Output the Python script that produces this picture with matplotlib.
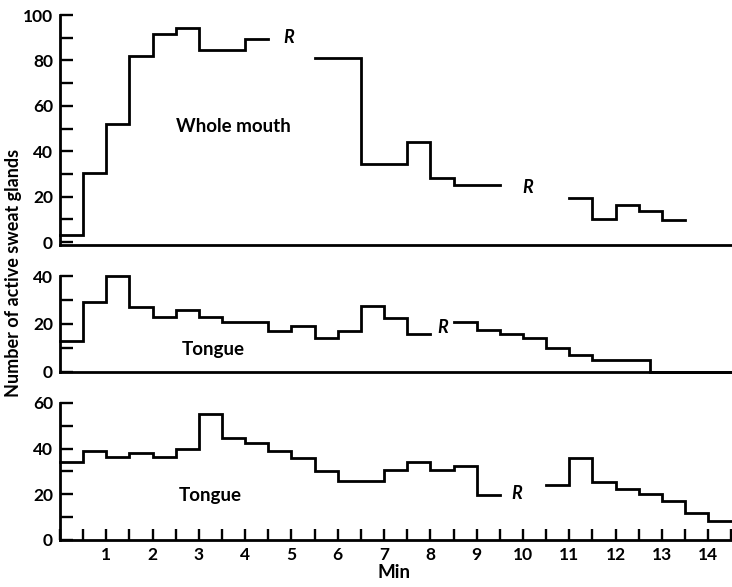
import numpy as np
import matplotlib
matplotlib.use('Agg')
import matplotlib.pyplot as plt
from matplotlib.ticker import MultipleLocator

# half-minute counting periods (start of each period, min)
top_start = np.arange(0, 13.5, 0.5)
top_counts = [3, 30.5, 52, 82, 91.5, 94.5, 84.5, 84.5, 89.5, np.nan, np.nan,
              81, 81, 34.5, 34.5, 44, 28, 25, 25, np.nan, np.nan, np.nan,
              19.5, 10, 16.5, 13.5, 9.5]
top_end = 13.5

mid_start = list(np.arange(0, 13.0, 0.5)) + [12.75]
mid_counts = [13, 29, 40, 27, 23, 26, 23, 21, 21, 17, 19, 14, 17, 27.5, 22.5,
              16, np.nan, 21, 17.5, 16, 14, 10, 7, 5, 5, 5, 0]
mid_end = 14.5

bot_start = np.arange(0, 14.5, 0.5)
bot_counts = [34, 39, 36.5, 38, 36.5, 40, 55, 44.5, 42.5, 39, 36, 30, 26, 26,
              30.5, 34, 30.5, 32.5, 19.5, np.nan, np.nan, 24, 36, 25.5, 22.5,
              20, 17, 12, 8.5]
bot_end = 14.5

# labels: (x, y, text)
panel_names = ['Whole mouth', 'Tongue', 'Tongue']
name_pos = [(3.75, 51), (3.3, 9.5), (3.25, 19.5)]
r_pos = [[(4.95, 90), (10.1, 24)], [(8.27, 18.5)], [(9.87, 20.5)]]
y_tops = [100, 40, 60]
y_bottoms = [-1.3, 0, 0]

FONT = ['Lato', 'DejaVu Sans']


def step_line(starts, counts, end):
    edges = np.append(np.asarray(starts, dtype=float), end)
    xs = np.repeat(edges, 2)[1:-1]
    ys = np.repeat(np.asarray(counts, dtype=float), 2)
    return xs, ys


def style_axes(ax, ytop, ybot, xticks):
    ax.set_xlim(0, 14.5)
    ax.set_ylim(ybot, ytop)
    for side in ['top', 'right']:
        ax.spines[side].set_visible(False)
    for side in ['left', 'bottom']:
        ax.spines[side].set_linewidth(2.0)
    ax.spines['left'].set_bounds(ybot, ytop)
    ax.yaxis.set_major_locator(MultipleLocator(20))
    ax.yaxis.set_minor_locator(MultipleLocator(10))
    ax.tick_params(axis='y', which='both', direction='in', length=9.5,
                   width=1.7, pad=5, labelsize=12.5)
    for lab in ax.get_yticklabels():
        lab.set_fontweight('bold')
    if xticks:
        ax.xaxis.set_major_locator(MultipleLocator(1))
        ax.xaxis.set_minor_locator(MultipleLocator(0.5))
        ax.tick_params(axis='x', which='both', direction='in', length=8,
                       width=1.7, pad=5, labelsize=12.5)
        ax.set_xticks(range(1, 15))
        ax.set_xticklabels([str(i) for i in range(1, 15)], fontweight='bold')
    else:
        ax.set_xticks([])
    ax.patch.set_alpha(0)


def main():
    plt.rcParams['font.family'] = FONT
    fig = plt.figure(figsize=(7.32, 5.87), dpi=100)

    rects = [[0.082, 0.5826, 0.917, 0.3918],
             [0.082, 0.3663, 0.917, 0.1635],
             [0.082, 0.0801, 0.917, 0.2334]]
    series = [(top_start, top_counts, top_end),
              (mid_start, mid_counts, mid_end),
              (bot_start, bot_counts, bot_end)]

    for i in range(3):
        ax = fig.add_axes(rects[i])
        style_axes(ax, y_tops[i], y_bottoms[i], i == 2)
        xs, ys = step_line(*series[i])
        ax.plot(xs, ys, color='black', lw=2.0, solid_joinstyle='miter',
                clip_on=False)
        ax.text(name_pos[i][0], name_pos[i][1], panel_names[i],
                ha='center', va='center', fontsize=13.5, fontweight='bold')
        for rx, ry in r_pos[i]:
            ax.text(rx, ry, 'R', ha='center', va='center', fontsize=13,
                    fontweight='bold', fontstyle='italic')
        if i == 2:
            ax.set_xlabel('Min', fontsize=13.5, fontweight='bold')
            ax.xaxis.set_label_coords(0.497, -0.175)

    fig.text(0.019, 0.535, 'Number of active sweat glands', rotation=90,
             ha='center', va='center', fontsize=13, fontweight='bold')

    fig.savefig('out.png', dpi=100)


if __name__ == '__main__':
    main()
